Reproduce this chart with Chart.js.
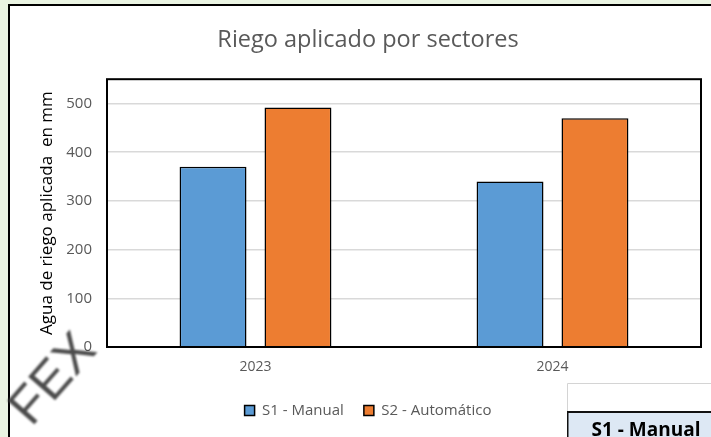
<!DOCTYPE html>
<html><head><meta charset="utf-8">
<script src="https://cdn.jsdelivr.net/npm/chart.js@4.4.1/dist/chart.umd.min.js"></script>
<style>
html,body{margin:0;padding:0;overflow:hidden;background:#fff;width:711px;height:437px;}
#wrap{position:absolute;left:0;top:0;width:736px;height:437px;}
canvas{display:block;}
</style></head><body>
<div id="wrap"><canvas id="c" width="736" height="437"></canvas></div>
<script>
const categories = ['2023', '2024'];
const seriesNames = ['S1 - Manual', 'S2 - Automático'];
const s1Manual = [370, 340];
const s2Automatico = [492, 470];
const yTickValues = [0, 100, 200, 300, 400, 500];
const chartTitle = 'Riego aplicado por sectores';
const yAxisTitle = 'Agua de riego aplicada  en mm';
const watermarkText = 'FEX';
const tableCellText = 'S1 - Manual';

const FONT = 'Open Sans';

const decor = {
  id: 'decor',
  beforeDraw(chart) {
    const ctx = chart.ctx, W = chart.width, H = chart.height;
    ctx.save();
    ctx.fillStyle = '#ffffff';
    ctx.fillRect(0, 0, W, H);
    ctx.fillStyle = '#eaf4e2';
    ctx.fillRect(0, 0, 8, H);
    ctx.fillRect(0, 0, W, 4);
    ctx.fillStyle = '#000';
    ctx.fillRect(8, 4, 2, H);
    ctx.fillRect(8, 4, W, 2);
    ctx.restore();
  },
  afterDraw(chart) {
    const ctx = chart.ctx, W = chart.width;
    const a = chart.chartArea;
    ctx.save();
    ctx.strokeStyle = '#000';
    ctx.lineWidth = 2;
    ctx.strokeRect(a.left, a.top, a.right - a.left, a.bottom - a.top);
    // watermark
    ctx.save();
    ctx.translate(54, 380);
    ctx.rotate(-0.85);
    ctx.font = '52px "Liberation Sans"';
    ctx.fillStyle = 'rgba(55,55,55,0.9)';
    ctx.textAlign = 'center';
    ctx.textBaseline = 'middle';
    ctx.filter = 'blur(0.9px)';
    ctx.fillText(watermarkText, 0, 0);
    ctx.restore();
    // table fragment
    ctx.fillStyle = '#ffffff';
    ctx.fillRect(567, 383, W - 567, 60);
    ctx.strokeStyle = '#d4d4d4';
    ctx.lineWidth = 1;
    ctx.beginPath();
    ctx.moveTo(567.5, 412); ctx.lineTo(567.5, 383.5); ctx.lineTo(W, 383.5);
    ctx.stroke();
    ctx.fillStyle = '#dde8f4';
    ctx.fillRect(568, 412, W - 568, 30);
    ctx.fillStyle = '#111';
    ctx.fillRect(567, 411, W - 567, 2);
    ctx.fillRect(567, 412, 1.5, 30);
    ctx.fillStyle = '#000';
    ctx.font = 'bold 19px "' + FONT + '"';
    ctx.textAlign = 'center';
    ctx.textBaseline = 'alphabetic';
    ctx.fillText(tableCellText, 646, 436);
    ctx.restore();
  }
};

new Chart(document.getElementById('c'), {
  type: 'bar',
  data: {
    labels: categories,
    datasets: [
      { label: seriesNames[0], data: s1Manual, backgroundColor: '#5b9bd5', borderColor: '#000', borderWidth: 1.5, borderSkipped: 'start', categoryPercentage: 0.572, barPercentage: 0.788 },
      { label: seriesNames[1], data: s2Automatico, backgroundColor: '#ed7d31', borderColor: '#000', borderWidth: 1.5, borderSkipped: 'start', categoryPercentage: 0.572, barPercentage: 0.788 }
    ]
  },
  options: {
    responsive: false,
    animation: false,
    devicePixelRatio: 1,
    layout: { padding: { left: 0, right: 0, top: 0, bottom: 9 } },
    plugins: {
      title: { display: true, text: chartTitle, color: '#595959', font: { family: FONT, size: 23.5, weight: 'normal' }, padding: { top: 26, bottom: 25 } },
      legend: { position: 'bottom', labels: { color: '#595959', font: { family: FONT, size: 15 }, boxWidth: 10, boxHeight: 10, padding: 20 } },
      tooltip: { enabled: false }
    },
    scales: {
      x: {
        grid: { display: false, drawTicks: false },
        border: { display: false },
        ticks: { color: '#595959', font: { family: FONT, size: 14 }, padding: 12 },
        afterFit: s => { s.height = 36; }
      },
      y: {
        min: 0, max: 550,
        afterBuildTicks: s => { s.ticks = yTickValues.map(v => ({ value: v })); },
        grid: { color: '#d9d9d9', lineWidth: 1.5, drawTicks: false },
        border: { display: false },
        ticks: { color: '#595959', font: { family: FONT, size: 15 }, padding: 15 },
        title: { display: true, text: yAxisTitle, color: '#000', font: { family: FONT, size: 17 }, padding: { top: 37, bottom: 0 } },
        afterFit: s => { s.width = 107; }
      },
      yR: {
        position: 'right', display: true,
        grid: { display: false, drawTicks: false },
        border: { display: false },
        ticks: { display: false },
        afterFit: s => { s.width = 35; }
      }
    }
  },
  plugins: [decor]
});
</script>
</body></html>
